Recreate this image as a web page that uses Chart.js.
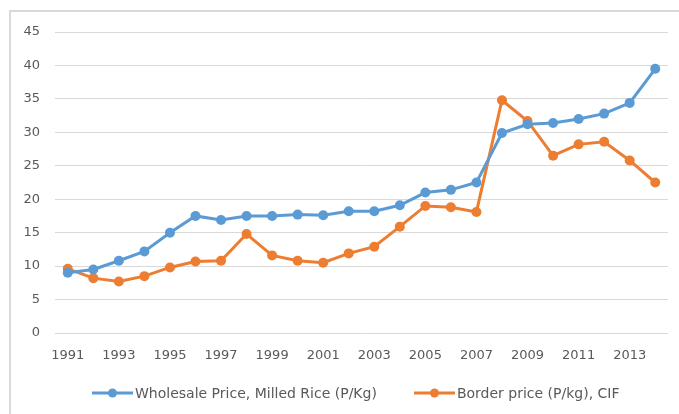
<!DOCTYPE html>
<html>
<head>
<meta charset="utf-8">
<script src="https://cdn.jsdelivr.net/npm/chart.js@4.4.0/dist/chart.umd.min.js"></script>
<style>
  html, body { margin: 0; padding: 0; background: #fff; overflow: hidden; }
  #wrap { position: relative; width: 679px; height: 414px; overflow: hidden; }
  #frame { position: absolute; left: 9px; top: 10px; right: 0; bottom: 0;
           border-left: 2px solid #d9d9d9; border-top: 2px solid #d9d9d9; }
  #chart { position: absolute; left: 0; top: 0; }
  #legend { position: absolute; left: 92px; top: 383px; height: 20px; display: flex; align-items: center;
            font-family: 'DejaVu Sans'; font-size: 14px; color: #595959; white-space: nowrap; }
  #legend .item { display: flex; align-items: center; margin-right: 37px; }
  #legend canvas { margin-right: 2px; }
</style>
</head>
<body>
<div id="wrap">
  <div id="frame"></div>
  <canvas id="chart" width="679" height="414"></canvas>
  <div id="legend"></div>
</div>
<script>
const years = ['1991', '1992', '1993', '1994', '1995', '1996', '1997', '1998', '1999', '2000', '2001', '2002',
               '2003', '2004', '2005', '2006', '2007', '2008', '2009', '2010', '2011', '2012', '2013', '2014'];
const wholesalePrice = [9.0, 9.5, 10.8, 12.2, 15.0, 17.5, 16.9, 17.5, 17.5, 17.7, 17.6, 18.2,
                        18.2, 19.1, 21.0, 21.4, 22.5, 29.9, 31.2, 31.4, 32.0, 32.8, 34.4, 39.5];
const borderPrice = [9.6, 8.2, 7.7, 8.5, 9.8, 10.7, 10.8, 14.8, 11.6, 10.8, 10.5, 11.9,
                     12.9, 15.9, 19.0, 18.8, 18.1, 34.8, 31.7, 26.5, 28.2, 28.6, 25.8, 22.5];
const seriesNames = ['Wholesale Price, Milled Rice (P/Kg)', 'Border price (P/kg), CIF'];

const blue = '#5b9bd5';
const orange = '#ed7d31';
const textColor = '#595959';
const font = 'DejaVu Sans';

function lineSet(label, data, color) {
    return {
        label: label,
        data: data,
        borderColor: color,
        backgroundColor: color,
        borderWidth: 3,
        pointRadius: 5,
        pointHoverRadius: 5,
        pointBorderWidth: 0,
        pointStyle: 'circle',
        tension: 0
    };
}

const ctx = document.getElementById('chart').getContext('2d');
const chart = new Chart(ctx, {
    type: 'line',
    data: {
        labels: years,
        datasets: [
            lineSet(seriesNames[0], wholesalePrice, blue),
            lineSet(seriesNames[1], borderPrice, orange)
        ]
    },
    options: {
        responsive: false,
        animation: false,
        layout: { padding: { left: 0, right: 11, top: 32, bottom: 51 } },
        plugins: {
            tooltip: { enabled: false },
            legend: { display: false }
        },
        scales: {
            x: {
                offset: true,
                grid: { display: false },
                border: { display: false },
                ticks: {
                    color: textColor,
                    font: { family: font, size: 13 },
                    autoSkip: false,
                    maxRotation: 0,
                    padding: 7,
                    callback: function(value, index) {
                        return index % 2 === 0 ? years[index] : '';
                    }
                },
                afterFit: function(scale) { scale.height = 30; }
            },
            y: {
                min: 0,
                max: 45,
                border: { display: false },
                grid: { color: '#d9d9d9', drawTicks: false },
                ticks: {
                    stepSize: 5,
                    color: textColor,
                    font: { family: font, size: 13 },
                    padding: 15
                },
                afterFit: function(scale) { scale.width = 55; }
            }
        }
    }
});

// legend built from the chart's datasets: short line with a dot, then the name
const legend = document.getElementById('legend');
chart.data.datasets.forEach(function(ds) {
    const item = document.createElement('div');
    item.className = 'item';
    const mark = document.createElement('canvas');
    mark.width = 41;
    mark.height = 12;
    const g = mark.getContext('2d');
    g.strokeStyle = ds.borderColor;
    g.lineWidth = 3;
    g.beginPath();
    g.moveTo(0, 6);
    g.lineTo(41, 6);
    g.stroke();
    g.fillStyle = ds.borderColor;
    g.beginPath();
    g.arc(20.5, 6, 4.5, 0, Math.PI * 2);
    g.fill();
    const label = document.createElement('span');
    label.textContent = ds.label;
    item.appendChild(mark);
    item.appendChild(label);
    legend.appendChild(item);
});
</script>
</body>
</html>
